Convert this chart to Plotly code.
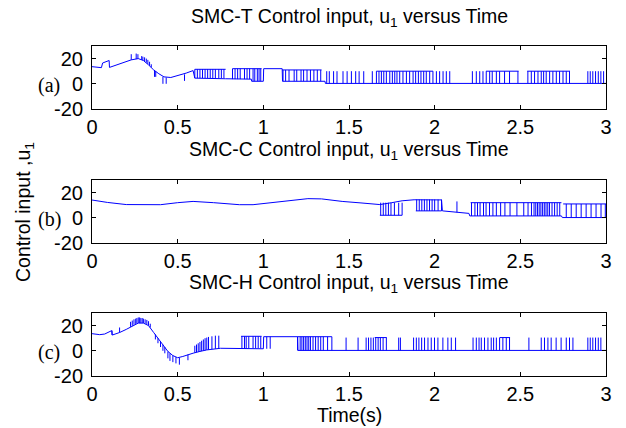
import plotly.graph_objects as go

# the page body adds an 8px margin, so the figure is 8px smaller than the window
OFF = 8
W, H = 626 - OFF, 428 - OFF

# ---- panel (a): SMC-T ----
A_T = [0, 0.05, 0.055, 0.062, 0.10, 0.102, 0.15, 0.229, 0.27, 0.30, 0.33, 0.36, 0.39, 0.42, 0.46,
       0.50, 0.55, 0.59, 0.60, 0.78, 0.93, 0.932, 1.0, 1.002, 1.11, 1.112, 1.36, 1.362, 3.0]
A_U = [13.6, 12.5, 12.8, 16.5, 18.5, 13, 15.5, 19, 20, 18.5, 15, 11, 8, 5.5, 5,
       6.5, 8.5, 10.5, 4.5, 4, 3.7, 2, 2, 12, 12, 2, 2, 0.3, 0.3]
A_SPK_T = [0.229, 0.258, 0.268, 0.29, 0.297, 0.307, 0.317, 0.326, 0.336, 0.346, 0.365, 0.372, 0.414, 0.433, 0.54]
A_SPK_LO = [19, 19.6, 19.8, 19, 18.6, 17.8, 16.8, 15.7, 14.3, 13, 5.5, 5.5, 0, 0, 2.3]
A_SPK_HI = [23.5, 24, 23.5, 22, 21.5, 21, 20, 19, 17.5, 15.5, 11, 10, 5.5, 5, 7.5]
A_CHAT_T = [
    [0.60, 0.615, 0.63, 0.645, 0.66, 0.675, 0.69, 0.705, 0.72, 0.74, 0.755, 0.77],
    [0.82, 0.835, 0.85, 0.865, 0.89, 0.905, 0.92],
    [0.94, 0.95, 0.965, 0.975, 0.985],
    [1.115, 1.13, 1.15, 1.18, 1.195, 1.22, 1.235, 1.255, 1.275, 1.295, 1.315, 1.335],
    [1.37, 1.385, 1.41, 1.43, 1.465, 1.489, 1.514, 1.539, 1.559, 1.586, 1.636, 1.66, 1.675, 1.689,
     1.703, 1.718, 1.738, 1.753, 1.767, 1.78, 1.796, 1.815, 1.835, 1.854, 1.874, 1.889, 1.905, 1.92,
     1.936, 1.951, 1.971, 1.99, 2.01, 2.029, 2.049, 2.068, 2.088, 2.22, 2.243, 2.263, 2.282, 2.301,
     2.321, 2.336, 2.36, 2.379, 2.408, 2.437, 2.486, 2.544, 2.564, 2.583, 2.603, 2.622, 2.636, 2.651,
     2.671, 2.69, 2.71, 2.729, 2.749, 2.768, 2.787, 2.894, 2.908, 2.923, 2.939, 2.955, 2.97, 2.986],
]
A_CHAT_LO = [4.5, 3.7, 2, 2, 0.3]
A_CHAT_HI = [11.5, 12, 12, 11, 10]
A_CAP_T0 = [0.60, 0.82, 1.11, 1.66, 2.30, 2.54]
A_CAP_T1 = [0.78, 0.99, 1.34, 1.99, 2.49, 2.79]
A_CAP_U = [11.5, 12, 11, 10, 10, 10]

# ---- panel (b): SMC-C ----
B_T = [0, 0.09, 0.2, 0.3, 0.4, 0.5, 0.59, 0.71, 0.86, 0.94, 1.02, 1.14, 1.26, 1.34, 1.46, 1.57,
       1.68, 1.75, 1.81, 1.88, 1.95, 2.04, 2.045, 2.12, 2.2, 2.205, 2.74, 2.745, 3.0]
B_U = [14.1, 12.2, 10.5, 10.3, 10.4, 12, 13, 12, 10.4, 10.4, 11.5, 13.7, 15.2, 15, 13, 11.8,
       10.5, 12, 13.5, 14.3, 14.5, 14.2, 5.5, 4.5, 3.5, 1.5, 1.5, 0.2, 0.2]
B_SPK_T = [2.13]
B_SPK_LO = [4.3]
B_SPK_HI = [13]
B_CHAT_T = [
    [1.685, 1.70, 1.715, 1.73, 1.745, 1.765, 1.79, 1.81],
    [1.895, 1.91, 1.925, 1.94, 1.955, 1.97, 1.985, 2.0, 2.02, 2.04],
    [2.215, 2.235, 2.25, 2.265, 2.285, 2.30, 2.32, 2.34, 2.36, 2.385, 2.41, 2.44, 2.48, 2.52, 2.545,
     2.565, 2.58, 2.59, 2.60, 2.61, 2.62, 2.63, 2.64, 2.65, 2.66, 2.67, 2.685, 2.70, 2.715, 2.73],
    [2.768, 2.797, 2.826, 2.855, 2.884, 2.913, 2.942, 2.971, 2.996],
]
B_CHAT_LO = [2, 5.5, 1.5, 0.2]
B_CHAT_HI = [12, 14.5, 12, 11]
B_CAP_T0 = [1.68, 1.89, 2.21, 2.75]
B_CAP_T1 = [1.81, 2.04, 2.74, 3.0]
B_CAP_U = [2, 5.5, 12, 11]

# ---- panel (c): SMC-H ----
C_T = [0, 0.045, 0.074, 0.115, 0.118, 0.161, 0.2, 0.225, 0.25, 0.27, 0.30, 0.33, 0.36, 0.385, 0.414,
       0.443, 0.472, 0.50, 0.53, 0.56, 0.59, 0.63, 0.67, 0.75, 1.0, 1.002, 1.2, 1.202, 3.0]
C_U = [13.6, 12.8, 13.3, 16, 12.5, 14.5, 17, 19, 21, 22, 22, 20, 14.5, 10, 4.8,
       -0.5, -3.8, -5.5, -4.5, -3, -1.9, -0.5, 0.7, 2, 1.6, 11.2, 11.2, 0.3, 0.3]
C_SPK_T = [0.117, 0.161, 0.225, 0.235, 0.245, 0.255, 0.262, 0.27, 0.278, 0.285, 0.293, 0.30, 0.31, 0.32,
           0.33, 0.34, 0.37, 0.385, 0.40, 0.414, 0.425, 0.443, 0.455, 0.472, 0.49, 0.51, 0.56, 0.60,
           0.61, 0.62, 0.63, 0.64, 0.65, 0.66, 0.67, 0.68, 0.70, 0.72, 0.74]
C_SPK_LO = [12.5, 14.5, 19, 19.8, 20.6, 21.3, 21.7, 22, 22, 22, 22, 22, 21.5, 20.8,
            20, 18.5, 9, 6, 3, 0, -2, -6, -8, -9, -10, -11, -7.5, -1.5,
            -1.1, -0.8, -0.5, -0.2, 0.1, 0.4, 0.7, 0.9, 1.3, 1.6, 2]
C_SPK_HI = [16, 18.5, 23, 24, 25, 25.5, 26, 26.5, 26.5, 26, 26, 25.5, 25, 24.5,
            23.5, 21.5, 13, 10, 7.5, 4.8, 3, -0.5, -2, -3.8, -5, -5.5, -3, 4,
            5, 6, 7, 8, 9, 10, 10.5, 11, 11.5, 12, 12]
C_CHAT_T = [
    [0.875, 0.89, 0.90, 0.915, 0.94, 0.955, 0.97, 0.985],
    [1.02, 1.04],
    [1.20, 1.215, 1.225, 1.235, 1.245, 1.255, 1.265, 1.275, 1.29, 1.305, 1.32, 1.335, 1.35, 1.375, 1.40],
    [1.483, 1.553, 1.60, 1.614, 1.628, 1.642, 1.656, 1.67, 1.683, 1.699, 1.718, 1.79, 1.80, 1.877,
     1.893, 1.908, 1.924, 1.941, 1.961, 1.98, 1.999, 2.019, 2.048, 2.077, 2.097, 2.122, 2.224, 2.243,
     2.259, 2.272, 2.291, 2.311, 2.33, 2.344, 2.36, 2.379, 2.398, 2.418, 2.437, 2.55, 2.622, 2.641,
     2.661, 2.68, 2.709, 2.738, 2.768, 2.787, 2.807, 2.894, 2.908, 2.923, 2.939, 2.955, 2.97],
]
C_CHAT_LO = [2, 1.6, 0.3, 0.3]
C_CHAT_HI = [11.5, 11.2, 11.2, 10.5]
C_CAP_T0 = [0.87, 1.20, 1.65, 2.38]
C_CAP_T1 = [0.99, 1.40, 1.72, 2.44]
C_CAP_U = [11.5, 11.2, 10.5, 10.5]

TITLES = ["SMC-T Control input, u<sub>1</sub> versus Time",
          "SMC-C Control input, u<sub>1</sub> versus Time",
          "SMC-H Control input, u<sub>1</sub> versus Time"]
TAGS = ["(a)", "(b)", "(c)"]
X_TICKS = [0, 0.5, 1, 1.5, 2, 2.5, 3]
X_LABELS = ["0", "0.5", "1", "1.5", "2", "2.5", "3"]
Y_TICKS = [-20, 0, 20]
Y_LABELS = ["-20", "0", "20"]

# window-pixel boxes of the three axes (top, bottom) and title centres
BOXES = [(46, 109), (180, 243), (313, 376)]
TITLE_Y = [17, 150, 283]
X0, X1 = 92, 606
FONT = "Liberation Sans, Arial"


def px(x):
    return (x - OFF) / W


def py(y):
    return 1 - (y - OFF) / H


def build(t, u, spk_t, spk_lo, spk_hi, chat_t, chat_lo, chat_hi, cap_t0, cap_t1, cap_u):
    xs, ys = list(t) + [None], list(u) + [None]
    for ti, lo, hi in zip(spk_t, spk_lo, spk_hi):
        xs += [ti, ti, None]
        ys += [lo, hi, None]
    for ts, lo, hi in zip(chat_t, chat_lo, chat_hi):
        for ti in ts:
            xs += [ti, ti, None]
            ys += [lo, hi, None]
    for t0, t1, v in zip(cap_t0, cap_t1, cap_u):
        xs += [t0, t1, None]
        ys += [v, v, None]
    return xs, ys


panels = [
    build(A_T, A_U, A_SPK_T, A_SPK_LO, A_SPK_HI, A_CHAT_T, A_CHAT_LO, A_CHAT_HI, A_CAP_T0, A_CAP_T1, A_CAP_U),
    build(B_T, B_U, B_SPK_T, B_SPK_LO, B_SPK_HI, B_CHAT_T, B_CHAT_LO, B_CHAT_HI, B_CAP_T0, B_CAP_T1, B_CAP_U),
    build(C_T, C_U, C_SPK_T, C_SPK_LO, C_SPK_HI, C_CHAT_T, C_CHAT_LO, C_CHAT_HI, C_CAP_T0, C_CAP_T1, C_CAP_U),
]

fig = go.Figure()
ann = []
for i, (xs, ys) in enumerate(panels):
    n = "" if i == 0 else str(i + 1)
    fig.add_trace(go.Scatter(x=xs, y=ys, mode="lines", line=dict(color="#0000ff", width=1),
                             xaxis="x" + n, yaxis="y" + n, showlegend=False, hoverinfo="skip"))
    top, bot = BOXES[i]
    common = dict(showline=True, linecolor="black", linewidth=1, mirror="ticks", ticks="inside",
                  ticklen=4, tickcolor="black", showgrid=False, zeroline=False, automargin=False,
                  tickfont=dict(family=FONT, size=20, color="black"))
    fig.update_layout({
        "xaxis" + n: dict(domain=[px(X0), px(X1)], range=[0, 3], tickvals=X_TICKS, ticktext=X_LABELS,
                          anchor="y" + n, ticklabelstandoff=0, **common),
        "yaxis" + n: dict(domain=[py(bot), py(top)], range=[-20, 30], tickvals=Y_TICKS, ticktext=Y_LABELS,
                          anchor="x" + n, ticklabelstandoff=4, **common),
    })
    ann.append(dict(text=TITLES[i], x=px((X0 + X1) / 2), y=py(TITLE_Y[i]), xref="paper", yref="paper",
                    showarrow=False, font=dict(family=FONT, size=19.5, color="black"),
                    xanchor="center", yanchor="middle"))
    ann.append(dict(text=TAGS[i], x=px(49), y=py((top + bot) / 2 + 8), xref="paper", yref="paper",
                    showarrow=False, font=dict(family="Liberation Serif, Times New Roman", size=20,
                                               color="black"),
                    xanchor="center", yanchor="middle"))

ann.append(dict(text="Time(s)", x=px((X0 + X1) / 2), y=py(415), xref="paper", yref="paper",
                showarrow=False, font=dict(family=FONT, size=19.5, color="black"),
                xanchor="center", yanchor="middle"))
ann.append(dict(text="Control input ,u<sub>1</sub>", x=px(24), y=py(212), xref="paper", yref="paper",
                showarrow=False, textangle=-90, font=dict(family=FONT, size=19.5, color="black"),
                xanchor="center", yanchor="middle"))

fig.update_layout(width=W, height=H, margin=dict(l=0, r=0, t=0, b=0),
                  paper_bgcolor="white", plot_bgcolor="white", annotations=ann)
fig.write_html("out.html")
